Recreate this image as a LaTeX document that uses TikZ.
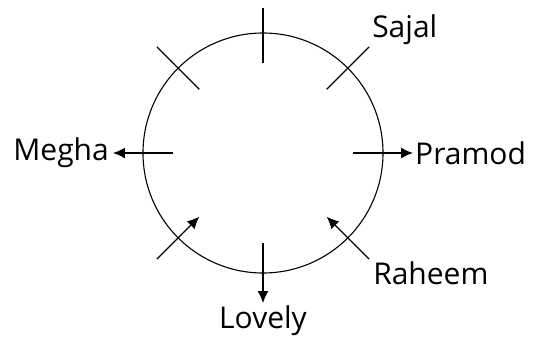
\documentclass[tikz,border=0pt]{standalone}
\usepackage{fontspec}
\setmainfont{Open Sans}
\usetikzlibrary{arrows.meta}

\begin{document}
\begin{tikzpicture}[x=1pt, y=1pt,
    seat/.style={line width=1.3pt},
    facing/.style={line width=1.3pt, -{Latex[length=12pt, width=11pt]}},
    person/.style={font=\fontsize{30}{32}\selectfont, inner sep=2pt}]
			\useasboundingbox (-263,-188) rectangle (271,153);
			\node[circle, draw, line width=1.1pt, minimum size=240pt, inner sep=0pt, outer sep=0pt](table) at (0,0){};
			% inner and outer end of every seat mark
			\foreach \a in {0,45,...,315}{
				\coordinate (in\a) at (\a:90);
				\coordinate (out\a) at (\a:150);
			}
			\coordinate (top) at (90:145);
			\node[person, anchor=south west](sajal) at ([xshift=1pt]out45){Sajal};
			\node[person, anchor=west](pramod) at (out0){Pramod};
			\node[person, anchor=north west](raheem) at ([xshift=2pt]out315){Raheem};
			\node[person, anchor=north](lovely) at (out270){Lovely};
			\node[person, anchor=east](megha) at ([xshift=-2pt]out180){Megha};
			\draw[seat] (in90) -- (top);
			\draw[seat] (in135) -- (out135);
			\draw[seat] (in45) -- (out45);
			\draw[facing] (in0) -- (out0);
			\draw[facing] (in180) -- (out180);
			\draw[facing] (in270) -- (out270);
			\draw[facing] (out225) -- (in225);
			\draw[facing] (out315) -- (in315);
			\end{tikzpicture}
\end{document}
